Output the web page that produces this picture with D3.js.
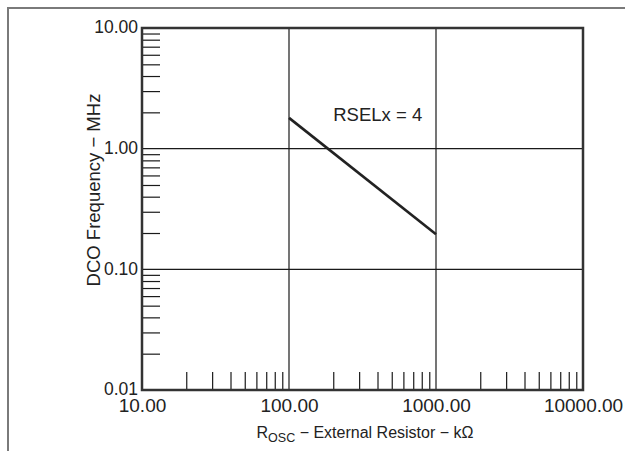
<!DOCTYPE html>
<html>
<head>
<meta charset="utf-8">
<script src="https://cdn.jsdelivr.net/npm/d3@7"></script>
<style>
  body { margin: 0; background: #fff; }
  svg text { font-family: "Liberation Sans", Arial, sans-serif; fill: #222; }
</style>
</head>
<body>
<div id="chart"></div>
<script>
// data
var xMajor = [10, 100, 1000, 10000];
var xLabels = ["10.00", "100.00", "1000.00", "10000.00"];
var yMajor = [0.01, 0.1, 1, 10];
var yLabels = ["0.01", "0.10", "1.00", "10.00"];
var minorSteps = [2, 3, 4, 5, 6, 7, 8, 9];

var rOsc = [100, 1000];        // kOhm
var fDco = [1.8, 0.195];       // MHz
var seriesLabel = "RSELx = 4";

var W = 625, H = 451;
var margin = {top: 28, right: 42, bottom: 61, left: 142};
var width = W - margin.left - margin.right;
var height = H - margin.top - margin.bottom;

var svg = d3.select("#chart").append("svg")
    .attr("width", W)
    .attr("height", H);

// outer frame (runs off the right and bottom edge)
svg.append("path")
    .attr("d", "M8," + H + "V8H" + W)
    .attr("fill", "none")
    .attr("stroke", "#7a7a7a")
    .attr("stroke-width", 2);

var g = svg.append("g")
    .attr("transform", "translate(" + margin.left + "," + margin.top + ")");

var x = d3.scaleLog().domain([10, 10000]).range([0, width]);
var y = d3.scaleLog().domain([0.01, 10]).range([height, 0]);

// minor tick positions, one set per decade
function minors(majors) {
  var out = [];
  majors.slice(0, -1).forEach(function(m) {
    minorSteps.forEach(function(s) { out.push(m * s); });
  });
  return out;
}

// grid lines at the inner decades
g.selectAll(".vgrid").data(xMajor.slice(1, -1)).enter().append("line")
    .attr("x1", d => x(d)).attr("x2", d => x(d))
    .attr("y1", 0).attr("y2", height)
    .attr("stroke", "#1a1a1a").attr("stroke-width", 1.2);
g.selectAll(".hgrid").data(yMajor.slice(1, -1)).enter().append("line")
    .attr("y1", d => y(d)).attr("y2", d => y(d))
    .attr("x1", 0).attr("x2", width)
    .attr("stroke", "#1a1a1a").attr("stroke-width", 1.2);

// minor ticks, pointing into the plot
var xMinor = g.append("g")
    .attr("transform", "translate(0," + height + ")")
    .call(d3.axisBottom(x).tickValues(minors(xMajor)).tickSize(-18).tickFormat(""));
var yMinor = g.append("g")
    .call(d3.axisLeft(y).tickValues(minors(yMajor)).tickSize(-18).tickFormat(""));
[xMinor, yMinor].forEach(function(a) {
  a.select(".domain").remove();
  a.selectAll("line").attr("stroke", "#1a1a1a").attr("stroke-width", 1.2);
});

// tick labels
var xAxis = g.append("g")
    .attr("transform", "translate(0," + height + ")")
    .call(d3.axisBottom(x).tickValues(xMajor).tickSize(0).tickPadding(9)
      .tickFormat((d, i) => xLabels[i]));
xAxis.selectAll("text").style("font-size", "19px");
var yAxis = g.append("g")
    .call(d3.axisLeft(y).tickValues(yMajor).tickSize(0).tickPadding(4)
      .tickFormat((d, i) => yLabels[i]));
yAxis.selectAll("text").style("font-size", "17.5px").attr("dy", "0.28em");
[xAxis, yAxis].forEach(function(a) {
  a.select(".domain").remove();
  a.selectAll("text").attr("fill", "#222");
});

// plot border
g.append("rect")
    .attr("width", width).attr("height", height)
    .attr("fill", "none")
    .attr("stroke", "#333")
    .attr("stroke-width", 2.5);

// the curve
var line = d3.line().x(d => x(d[0])).y(d => y(d[1]));
g.append("path")
    .datum(rOsc.map((r, i) => [r, fDco[i]]))
    .attr("d", line)
    .attr("fill", "none")
    .attr("stroke", "#222")
    .attr("stroke-width", 2.6);

g.append("text")
    .attr("x", x(200)).attr("y", y(1.7))
    .style("font-size", "18.5px")
    .text(seriesLabel);

// axis titles
var xt = svg.append("text")
    .attr("x", 365)
    .attr("y", 438)
    .attr("text-anchor", "middle")
    .style("font-size", "16px");
xt.append("tspan").text("R");
xt.append("tspan").attr("dy", 4).style("font-size", "12.5px").text("OSC");
xt.append("tspan").attr("dy", -4).text(" \u2212 External Resistor \u2212 k\u03a9");

svg.append("text")
    .attr("transform", "translate(100,190) rotate(-90)")
    .attr("text-anchor", "middle")
    .style("font-size", "18.5px")
    .text("DCO Frequency \u2212 MHz");
</script>
</body>
</html>
